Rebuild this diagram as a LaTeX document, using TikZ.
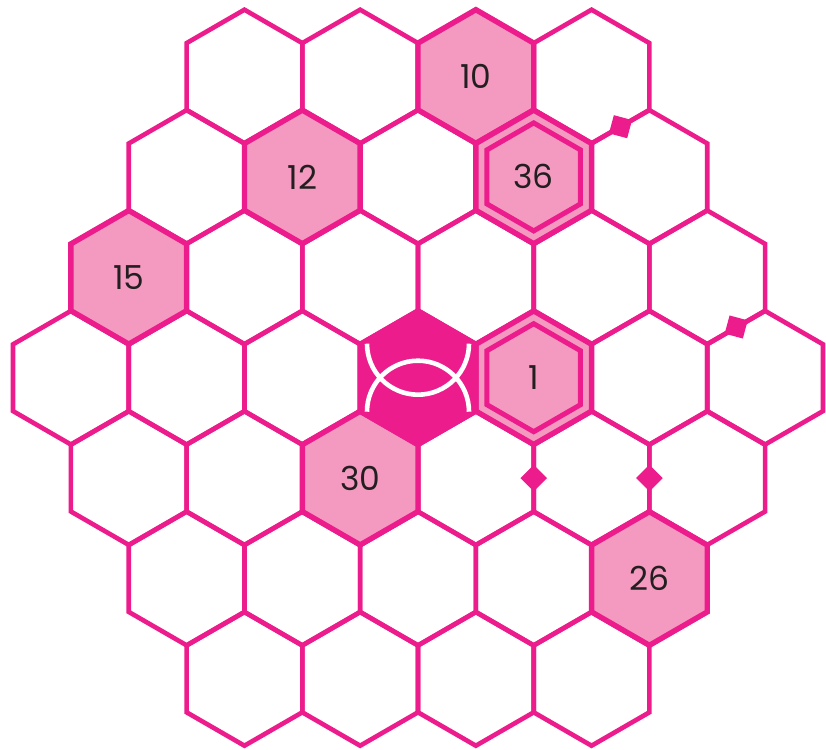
\documentclass[tikz,border=0pt]{standalone}
\usepackage{fontspec}
\setmainfont{Poppins}
\usetikzlibrary{calc}
\definecolor{hexpink}{HTML}{EC1C8C}
\definecolor{hexlight}{HTML}{F49AC1}
\definecolor{txtgray}{HTML}{231F20}
\newcommand\hexcell[4][]{%
  \pgfmathsetmacro\hcx{418+115.7*(#2+0.5*(#3))}%
  \pgfmathsetmacro\hcy{377.7+100.4*(#3)}%
  \path[#1] (\hcx,\hcy) +(90:#4) -- +(150:#4) -- +(210:#4) -- +(270:#4) -- +(330:#4) -- +(30:#4) -- cycle;}
\newcommand\edgemark[3]{% x, y, angle of edge
  \fill[marker] (#1,#2) +(#3:13.3) -- +(#3+90:13.3) -- +(#3+180:13.3) -- +(#3+270:13.3) -- cycle;}
\begin{document}
\begin{tikzpicture}[x=1pt,y=-1pt,
  gridline/.style={draw=hexpink, line width=4.6pt, line join=miter},
  litcell/.style={draw=hexpink, fill=hexlight, line width=5.4pt, line join=miter},
  darkcell/.style={draw=hexpink, fill=hexpink, line width=5.4pt, line join=miter},
  innerring/.style={draw=hexpink, line width=5pt, line join=miter},
  arcline/.style={draw=white, line width=4.6pt, line cap=butt},
  marker/.style={fill=hexpink},
  num/.style={text=txtgray, font=\fontsize{33}{38}\selectfont, inner sep=0pt}]
\useasboundingbox (0,0) rectangle (826,749);
\fill[white] (0,0) rectangle (826,749);
% grid
\foreach \r in {-3,...,3}{
  \pgfmathtruncatemacro\qa{max(-3,-3-\r)}
  \pgfmathtruncatemacro\qb{min(3,3-\r)}
  \foreach \q in {\qa,...,\qb}{
    \hexcell[gridline]{\q}{\r}{66.8}
  }
}
% highlighted cells
\hexcell[litcell]{2}{-3}{66.8}
\hexcell[litcell]{0}{-2}{66.8}
\hexcell[litcell]{2}{-2}{66.8}
\hexcell[litcell]{-2}{-1}{66.8}
\hexcell[litcell]{1}{0}{66.8}
\hexcell[litcell]{-1}{1}{66.8}
\hexcell[litcell]{1}{2}{66.8}
% double rings
\hexcell[innerring]{2}{-2}{54}
\hexcell[innerring]{1}{0}{54}
% centre cell
\hexcell[darkcell]{0}{0}{66.8}
\draw[arcline] (367,411.7) arc[start angle=180, end angle=360, radius=51];
\draw[arcline] (367,343.7) arc[start angle=180, end angle=0, radius=51];
% edge markers
\edgemark{620.5}{126.7}{-30}
\edgemark{736.2}{327.0}{-30}
\edgemark{533.7}{478.1}{90}
\edgemark{649.4}{478.1}{90}
% numbers
\node[num] (n10) at (475.85,76.5) {10};
\node[num] (n12) at (302.3,176.9) {12};
\node[num] (n36) at (533.7,176.9) {36};
\node[num] (n15) at (128.75,277.3) {15};
\node[num] (n1) at (533.7,377.7) {1};
\node[num] (n30) at (360.15,478.1) {30};
\node[num] (n26) at (649.4,578.5) {26};
\end{tikzpicture}
\end{document}
